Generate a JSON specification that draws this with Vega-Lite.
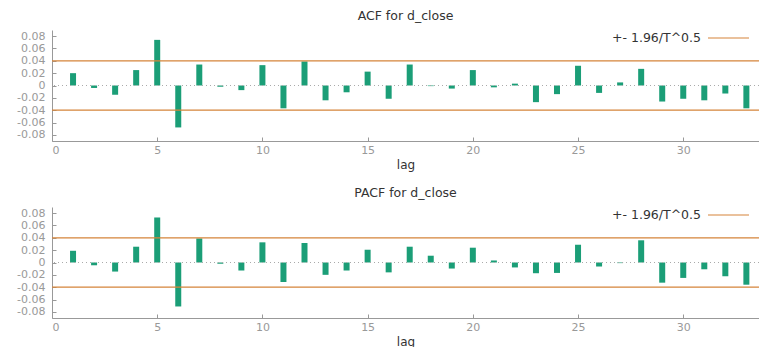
{
  "$schema": "https://vega.github.io/schema/vega-lite/v6.json",
  "padding": {"left": 5, "top": 10, "right": 0, "bottom": 0},
  "background": "white",
  "datasets": {
    "acf": [
      {"lag": 1, "value": 0.020}, {"lag": 2, "value": -0.004}, {"lag": 3, "value": -0.015},
      {"lag": 4, "value": 0.025}, {"lag": 5, "value": 0.074}, {"lag": 6, "value": -0.068},
      {"lag": 7, "value": 0.034}, {"lag": 8, "value": -0.002}, {"lag": 9, "value": -0.0075},
      {"lag": 10, "value": 0.033}, {"lag": 11, "value": -0.037}, {"lag": 12, "value": 0.039},
      {"lag": 13, "value": -0.024}, {"lag": 14, "value": -0.011}, {"lag": 15, "value": 0.0225},
      {"lag": 16, "value": -0.0215}, {"lag": 17, "value": 0.034}, {"lag": 18, "value": -0.001},
      {"lag": 19, "value": -0.005}, {"lag": 20, "value": 0.025}, {"lag": 21, "value": -0.003},
      {"lag": 22, "value": 0.003}, {"lag": 23, "value": -0.027}, {"lag": 24, "value": -0.014},
      {"lag": 25, "value": 0.032}, {"lag": 26, "value": -0.012}, {"lag": 27, "value": 0.005},
      {"lag": 28, "value": 0.027}, {"lag": 29, "value": -0.026}, {"lag": 30, "value": -0.0215},
      {"lag": 31, "value": -0.024}, {"lag": 32, "value": -0.013}, {"lag": 33, "value": -0.037}
    ],
    "pacf": [
      {"lag": 1, "value": 0.019}, {"lag": 2, "value": -0.0045}, {"lag": 3, "value": -0.0147},
      {"lag": 4, "value": 0.0256}, {"lag": 5, "value": 0.073}, {"lag": 6, "value": -0.0713},
      {"lag": 7, "value": 0.039}, {"lag": 8, "value": -0.002}, {"lag": 9, "value": -0.013},
      {"lag": 10, "value": 0.0327}, {"lag": 11, "value": -0.0316}, {"lag": 12, "value": 0.0316},
      {"lag": 13, "value": -0.020}, {"lag": 14, "value": -0.013}, {"lag": 15, "value": 0.0207},
      {"lag": 16, "value": -0.016}, {"lag": 17, "value": 0.0256}, {"lag": 18, "value": 0.011},
      {"lag": 19, "value": -0.0098}, {"lag": 20, "value": 0.024}, {"lag": 21, "value": 0.0033},
      {"lag": 22, "value": -0.008}, {"lag": 23, "value": -0.0174}, {"lag": 24, "value": -0.0169},
      {"lag": 25, "value": 0.0288}, {"lag": 26, "value": -0.0065}, {"lag": 27, "value": -0.001},
      {"lag": 28, "value": 0.036}, {"lag": 29, "value": -0.0327}, {"lag": 30, "value": -0.025},
      {"lag": 31, "value": -0.011}, {"lag": 32, "value": -0.0223}, {"lag": 33, "value": -0.036}
    ],
    "bands": [
      {"y": 0.04, "label": "+- 1.96/T^0.5"},
      {"y": -0.04, "label": "+- 1.96/T^0.5"}
    ],
    "zero": [{"y": 0}]
  },
  "config": {
    "font": "DejaVu Sans",
    "view": {"stroke": null},
    "scale": {"continuousPadding": 0},
    "title": {"fontSize": 12.5, "fontWeight": "normal", "color": "#333333", "anchor": "middle", "offset": -6, "frame": "group", "font": "DejaVu Sans"},
    "axis": {
      "domainColor": "#999999", "tickColor": "#999999", "labelColor": "#999999",
      "labelFont": "DejaVu Sans", "labelFontSize": 11, "grid": false, "labelOverlap": false,
      "titleFont": "DejaVu Sans", "titleFontSize": 12, "titleFontWeight": "normal", "titleColor": "#333333"
    },
    "legend": {"labelFont": "DejaVu Sans", "labelFontSize": 12.5, "labelColor": "#333333"}
  },
  "vconcat": [
    {
      "title": "ACF for d_close",
      "width": 707, "height": 111,
      "layer": [
        {
          "data": {"name": "acf"},
          "mark": {"type": "bar", "color": "#1b9e77", "size": 6},
          "encoding": {
            "x": {"field": "lag", "type": "quantitative", "scale": {"domain": [0, 33.6], "nice": false, "padding": 0},
                  "axis": {"values": [0, 5, 10, 15, 20, 25, 30], "tickSize": -4, "labelPadding": 7, "title": "lag", "titlePadding": 4}},
            "y": {"field": "value", "type": "quantitative", "title": null, "scale": {"domain": [-0.09, 0.09], "nice": false, "padding": 0},
                  "axis": {"values": [-0.08, -0.06, -0.04, -0.02, 0, 0.02, 0.04, 0.06, 0.08], "format": ".2~f", "labelExpr": "replace(datum.label, '\u2212', '-')", "labelFontSize": 11, "labelOverlap": false, "tickSize": -4, "labelPadding": 11, "title": null, "minExtent": 47, "maxExtent": 47}}
          }
        },
        {
          "data": {"name": "zero"},
          "mark": {"type": "rule", "color": "#aaaaaa", "strokeDash": [1, 3], "strokeWidth": 1},
          "encoding": {"y": {"field": "y", "type": "quantitative", "title": null,
                  "axis": {"values": [-0.08, -0.06, -0.04, -0.02, 0, 0.02, 0.04, 0.06, 0.08], "format": ".2~f", "labelExpr": "replace(datum.label, '\u2212', '-')", "labelFontSize": 11, "labelOverlap": false, "tickSize": -4, "labelPadding": 11, "title": null, "minExtent": 47, "maxExtent": 47}}}
        },
        {
          "data": {"name": "bands"},
          "mark": {"type": "rule", "strokeWidth": 1.2},
          "encoding": {
            "y": {"field": "y", "type": "quantitative", "title": null,
                  "axis": {"values": [-0.08, -0.06, -0.04, -0.02, 0, 0.02, 0.04, 0.06, 0.08], "format": ".2~f", "labelExpr": "replace(datum.label, '\u2212', '-')", "labelFontSize": 11, "labelOverlap": false, "tickSize": -4, "labelPadding": 11, "title": null, "minExtent": 47, "maxExtent": 47}},
            "color": {"field": "label", "type": "nominal", "scale": {"range": ["#d5843a"]},
                      "legend": {"title": null, "orient": "none", "legendX": 655, "legendY": -13.5, "symbolType": "stroke", "symbolSize": 1681, "symbolStrokeWidth": 1.2, "labelAlign": "right", "labelOffset": -49}}
          }
        }
      ]
    },
    {
      "title": "PACF for d_close",
      "width": 707, "height": 111,
      "layer": [
        {
          "data": {"name": "pacf"},
          "mark": {"type": "bar", "color": "#1b9e77", "size": 6},
          "encoding": {
            "x": {"field": "lag", "type": "quantitative", "scale": {"domain": [0, 33.6], "nice": false, "padding": 0},
                  "axis": {"values": [0, 5, 10, 15, 20, 25, 30], "tickSize": -4, "labelPadding": 7, "title": "lag", "titlePadding": 4}},
            "y": {"field": "value", "type": "quantitative", "title": null, "scale": {"domain": [-0.09, 0.09], "nice": false, "padding": 0},
                  "axis": {"values": [-0.08, -0.06, -0.04, -0.02, 0, 0.02, 0.04, 0.06, 0.08], "format": ".2~f", "labelExpr": "replace(datum.label, '\u2212', '-')", "labelFontSize": 11, "labelOverlap": false, "tickSize": -4, "labelPadding": 11, "title": null, "minExtent": 47, "maxExtent": 47}}
          }
        },
        {
          "data": {"name": "zero"},
          "mark": {"type": "rule", "color": "#aaaaaa", "strokeDash": [1, 3], "strokeWidth": 1},
          "encoding": {"y": {"field": "y", "type": "quantitative", "title": null,
                  "axis": {"values": [-0.08, -0.06, -0.04, -0.02, 0, 0.02, 0.04, 0.06, 0.08], "format": ".2~f", "labelExpr": "replace(datum.label, '\u2212', '-')", "labelFontSize": 11, "labelOverlap": false, "tickSize": -4, "labelPadding": 11, "title": null, "minExtent": 47, "maxExtent": 47}}}
        },
        {
          "data": {"name": "bands"},
          "mark": {"type": "rule", "strokeWidth": 1.2},
          "encoding": {
            "y": {"field": "y", "type": "quantitative", "title": null,
                  "axis": {"values": [-0.08, -0.06, -0.04, -0.02, 0, 0.02, 0.04, 0.06, 0.08], "format": ".2~f", "labelExpr": "replace(datum.label, '\u2212', '-')", "labelFontSize": 11, "labelOverlap": false, "tickSize": -4, "labelPadding": 11, "title": null, "minExtent": 47, "maxExtent": 47}},
            "color": {"field": "label", "type": "nominal", "scale": {"range": ["#d5843a"]},
                      "legend": {"title": null, "orient": "none", "legendX": 655, "legendY": -13.5, "symbolType": "stroke", "symbolSize": 1681, "symbolStrokeWidth": 1.2, "labelAlign": "right", "labelOffset": -49}}
          }
        }
      ]
    }
  ],
  "spacing": 17,
  "resolve": {"scale": {"color": "independent"}, "legend": {"color": "independent"}}
}
